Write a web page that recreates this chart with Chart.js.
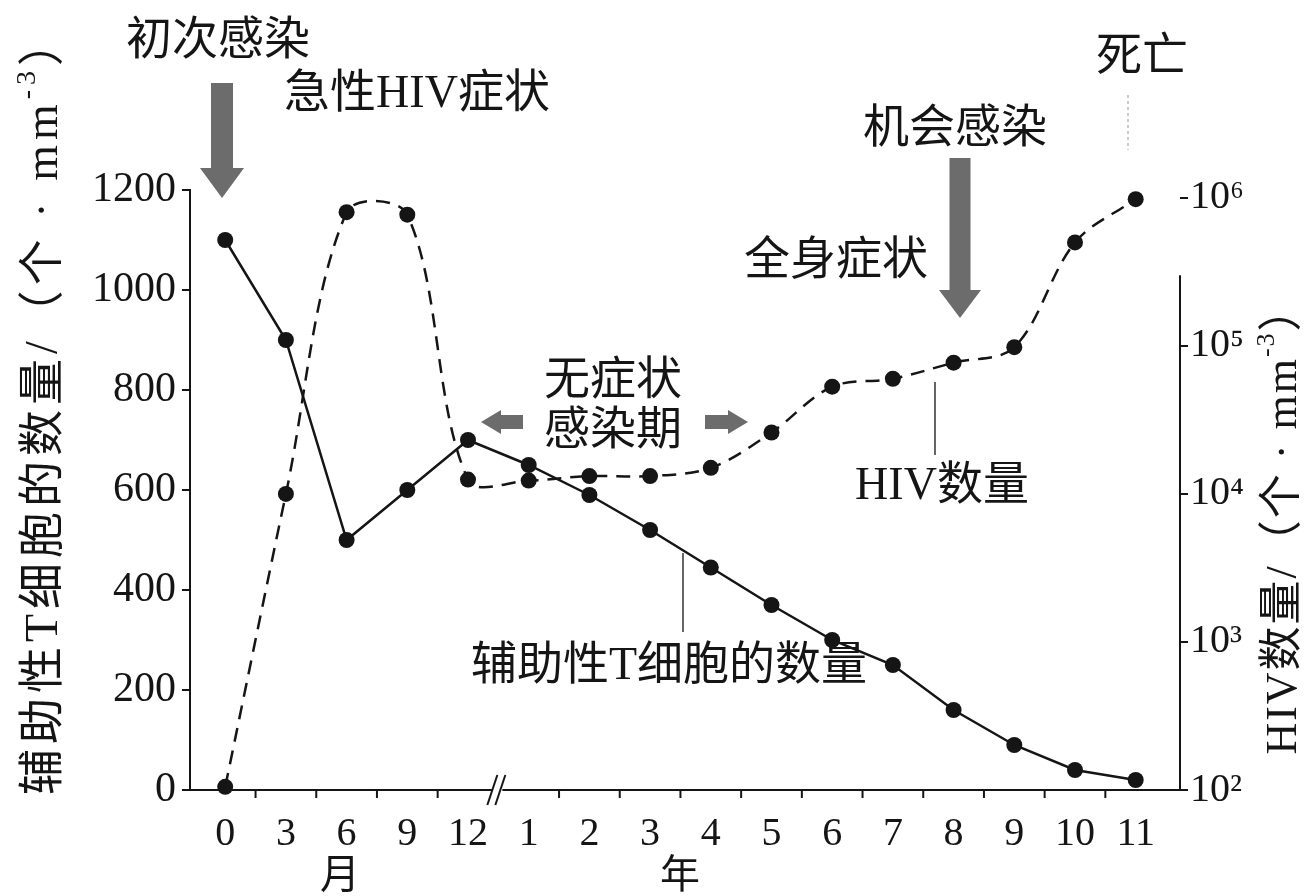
<!DOCTYPE html>
<html>
<head>
<meta charset="utf-8">
<script src="https://cdn.jsdelivr.net/npm/chart.js@4.4.1/dist/chart.umd.min.js"></script>
<style>
html,body{margin:0;background:#fff}
</style>
</head>
<body>
<canvas id="hivChart" width="1307" height="896"></canvas>
<script>
// x categories: 0-12 months, then 1-11 years
const xLabels = ['0','3','6','9','12','1','2','3','4','5','6','7','8','9','10','11']
// helper T cells per mm3 (left axis)
const tCells = [1100,900,500,600,700,650,590,520,445,370,300,250,160,90,40,20]
// HIV per mm3 (right axis, log)
const hivLoad = [105,1.0e4,8.0e5,7.7e5,1.25e4,1.23e4,1.32e4,1.32e4,1.5e4,2.6e4,5.3e4,6.0e4,7.7e4,9.8e4,5.0e5,9.8e5]
const leftTicks = [0,200,400,600,800,1000,1200]
const rightTicks = [1e2,1e3,1e4,1e5,1e6]
const sup = {2:'²',3:'³',4:'⁴',5:'⁵',6:'⁶'}

const FONT = '"Liberation Serif","Noto Sans CJK SC",serif'
const INK = '#151515'
const ARROW = '#6c6c6c'

function txt(ctx,s,x,y,size){
  ctx.font = size+'px '+FONT
  ctx.textAlign = 'center'
  ctx.textBaseline = 'middle'
  ctx.fillText(s,x,y)
}

// text with a raised exponent, centered at 0,0 of current transform
function richTitle(ctx,before,exp,after,size,spacing){
  ctx.letterSpacing = spacing+'px'
  ctx.font = size+'px '+FONT
  let w1 = ctx.measureText(before).width
  let w3 = ctx.measureText(after).width
  ctx.font = Math.round(size*0.6)+'px '+FONT
  let w2 = ctx.measureText(exp).width
  let x = -(w1+w2+w3)/2
  ctx.textAlign = 'left'
  ctx.textBaseline = 'middle'
  ctx.font = size+'px '+FONT
  ctx.fillText(before,x,0)
  ctx.font = Math.round(size*0.6)+'px '+FONT
  ctx.fillText(exp,x+w1,-size*0.38)
  ctx.font = size+'px '+FONT
  ctx.fillText(after,x+w1+w2,0)
  ctx.letterSpacing = '0px'
}

function downArrow(ctx,x,top,headY,tip,shaftW,headW){
  ctx.beginPath()
  ctx.moveTo(x-shaftW/2,top)
  ctx.lineTo(x+shaftW/2,top)
  ctx.lineTo(x+shaftW/2,headY)
  ctx.lineTo(x+headW/2,headY)
  ctx.lineTo(x,tip)
  ctx.lineTo(x-headW/2,headY)
  ctx.lineTo(x-shaftW/2,headY)
  ctx.closePath()
  ctx.fill()
}

function sideArrow(ctx,tipX,y,baseX,endX,shaftH,headH){
  ctx.beginPath()
  ctx.moveTo(tipX,y)
  ctx.lineTo(baseX,y-headH/2)
  ctx.lineTo(baseX,y-shaftH/2)
  ctx.lineTo(endX,y-shaftH/2)
  ctx.lineTo(endX,y+shaftH/2)
  ctx.lineTo(baseX,y+shaftH/2)
  ctx.lineTo(baseX,y+headH/2)
  ctx.closePath()
  ctx.fill()
}

const annotations = {
  id:'annotations',
  afterDraw(chart){
    const ctx = chart.ctx
    const xs = chart.scales.x
    const y2 = chart.scales.y2
    const base = chart.chartArea.bottom
    ctx.save()

    /* x tick marks between categories, skipping the break */
    ctx.strokeStyle = INK
    ctx.lineWidth = 2
    for(let i=0;i<xLabels.length-1;i++){
      if(i==4) continue
      let px = xs.getPixelForValue(i+0.5)
      ctx.beginPath(); ctx.moveTo(px,base); ctx.lineTo(px,base+8); ctx.stroke()
    }

    /* axis break // */
    let bx = xs.getPixelForValue(4.5)
    ctx.fillStyle = '#fff'
    ctx.fillRect(bx-6,base-3,10,6)
    ctx.strokeStyle = INK
    ctx.lineWidth = 2
    ctx.beginPath(); ctx.moveTo(bx-11,base+15); ctx.lineTo(bx-1,base-15); ctx.stroke()
    ctx.beginPath(); ctx.moveTo(bx-3,base+15); ctx.lineTo(bx+7,base-15); ctx.stroke()

    /* right axis line (starts below the top) */
    ctx.lineWidth = 2
    ctx.beginPath()
    ctx.moveTo(y2.left,y2.getPixelForValue(3e5))
    ctx.lineTo(y2.left,base)
    ctx.stroke()

    /* gray arrows */
    ctx.fillStyle = ARROW
    downArrow(ctx,222,83,168,198,22,44)
    downArrow(ctx,960,158,290,318,21,42)
    sideArrow(ctx,481,422,501,523,14,24)
    sideArrow(ctx,748,422,728,705,14,24)

    /* leader lines */
    ctx.strokeStyle = '#333'
    ctx.lineWidth = 1.5
    ctx.beginPath(); ctx.moveTo(935,382); ctx.lineTo(935,455); ctx.stroke()
    ctx.beginPath(); ctx.moveTo(683,553); ctx.lineTo(683,632); ctx.stroke()
    ctx.strokeStyle = '#bbb'
    ctx.setLineDash([3,3])
    ctx.beginPath(); ctx.moveTo(1128,95); ctx.lineTo(1128,150); ctx.stroke()
    ctx.setLineDash([])

    /* labels */
    ctx.fillStyle = INK
    txt(ctx,'初次感染',218,42,46)
    txt(ctx,'急性HIV症状',417,95,46)
    txt(ctx,'死亡',1142,58,46)
    txt(ctx,'机会感染',955,130,46)
    txt(ctx,'全身症状',836,262,46)
    txt(ctx,'无症状',613,382,46)
    txt(ctx,'感染期',613,432,46)
    txt(ctx,'HIV数量',942,487,46)
    txt(ctx,'辅助性T细胞的数量',669,667,46)
    txt(ctx,'月',340,877,40)
    txt(ctx,'年',680,877,40)

    /* axis titles */
    ctx.save()
    ctx.translate(45,405)
    ctx.rotate(-Math.PI/2)
    richTitle(ctx,'辅助性T细胞的数量/（个 · mm','-3','）',46,5)
    ctx.restore()

    ctx.save()
    ctx.translate(1284,520)
    ctx.rotate(-Math.PI/2)
    richTitle(ctx,'HIV数量/（个 · mm','-3','）',44,2)
    ctx.restore()

    ctx.restore()
  }
}

new Chart(document.getElementById('hivChart'),{
  type:'line',
  data:{
    datasets:[{
      label:'辅助性T细胞的数量',
      data:tCells.map((v,i)=>({x:i,y:v})),
      yAxisID:'y',
      borderColor:INK,
      borderWidth:2.5,
      pointRadius:8,
      pointBackgroundColor:INK,
      pointBorderWidth:0,
      tension:0,
      clip:false
    },{
      label:'HIV数量',
      data:hivLoad.map((v,i)=>({x:i,y:v})),
      yAxisID:'y2',
      borderColor:INK,
      borderWidth:2.5,
      borderDash:[14,9],
      pointRadius:8,
      pointBackgroundColor:INK,
      pointBorderWidth:0,
      tension:0.34,
      clip:false
    }]
  },
  options:{
    responsive:false,
    animation:false,
    layout:{padding:{top:190,bottom:26,left:0,right:0}},
    plugins:{legend:{display:false},tooltip:{enabled:false}},
    scales:{
      x:{
        type:'linear',
        min:-0.58,
        max:15.73,
        afterBuildTicks:a=>{a.ticks = xLabels.map((l,i)=>({value:i}))},
        afterFit:a=>{a.height = 80},
        grid:{display:false},
        border:{display:true,color:INK,width:2},
        ticks:{
          autoSkip:false,maxRotation:0,padding:12,color:INK,
          font:{family:FONT,size:40},
          callback:v=>xLabels[v]
        }
      },
      y:{
        position:'left',
        min:0,max:1200,
        afterBuildTicks:a=>{a.ticks = leftTicks.map(v=>({value:v}))},
        afterFit:a=>{a.width = 190},
        grid:{drawOnChartArea:false,tickLength:8,color:INK,lineWidth:2},
        border:{display:true,color:INK,width:2},
        ticks:{padding:6,color:INK,font:{family:FONT,size:42},callback:v=>String(v)}
      },
      y2:{
        type:'logarithmic',
        position:'right',
        min:100,max:1.13e6,
        afterBuildTicks:a=>{a.ticks = rightTicks.map(v=>({value:v}))},
        afterFit:a=>{a.width = 127},
        grid:{drawOnChartArea:false,tickLength:8,color:INK,lineWidth:2},
        border:{display:false},
        ticks:{
          padding:2,color:INK,font:{family:FONT,size:40},
          callback:v=>'10'+sup[Math.round(Math.log10(v))]
        }
      }
    }
  },
  plugins:[annotations]
})
</script>
</body>
</html>
